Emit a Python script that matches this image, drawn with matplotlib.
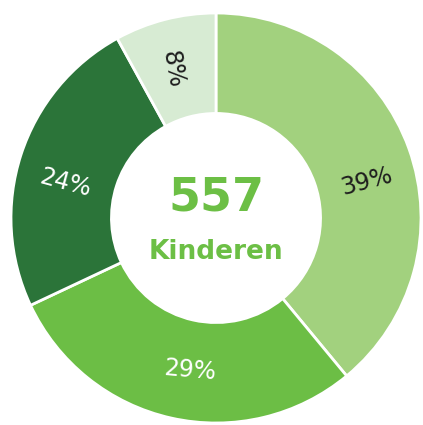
import numpy as np
import matplotlib
matplotlib.use("Agg")
import matplotlib.pyplot as plt

shares = [39, 29, 24, 8]
labels = ["39%", "29%", "24%", "8%"]
total_label = "557"
unit_label = "Kinderen"

colors = ["#a2d17e", "#6cbe45", "#2b7439", "#d7ebd3"]
text_colors = ["#1e1e1e", "white", "white", "#1e1e1e"]
label_rot = [15, -5, -15, -80]
label_shift = [-6, 3, 5, 2]   # small angle nudges, degrees
accent = "#6cbf45"

W, H = 423, 425
fig = plt.figure(figsize=(W / 100, H / 100), dpi=100)
ax = fig.add_axes([0, 0, 1, 1])

cx, cy = 216, H - 218
R = 205
ring = 0.51

wedges, _ = ax.pie(shares, startangle=90, counterclock=False, colors=colors,
                   radius=R, center=(cx, cy), frame=True,
                   wedgeprops=dict(width=R * (1 - ring), edgecolor="white", linewidth=2))
ax.set_xlim(0, W)
ax.set_ylim(0, H)
ax.axis("off")

lab_r = R * 0.755
for w, lab, tc, rot, sh in zip(wedges, labels, text_colors, label_rot, label_shift):
    mid = np.deg2rad((w.theta1 + w.theta2) / 2 + sh)
    ax.text(cx + lab_r * np.cos(mid), cy + lab_r * np.sin(mid), lab,
            ha="center", va="center", rotation=rot, fontsize=17, color=tc,
            family="DejaVu Sans")

ax.text(cx, cy + 20, total_label, ha="center", va="center", fontsize=33,
        fontweight="bold", color=accent)
ax.text(cx, cy - 34, unit_label, ha="center", va="center", fontsize=19,
        fontweight="bold", color=accent)

fig.savefig("out.png", dpi=100)
